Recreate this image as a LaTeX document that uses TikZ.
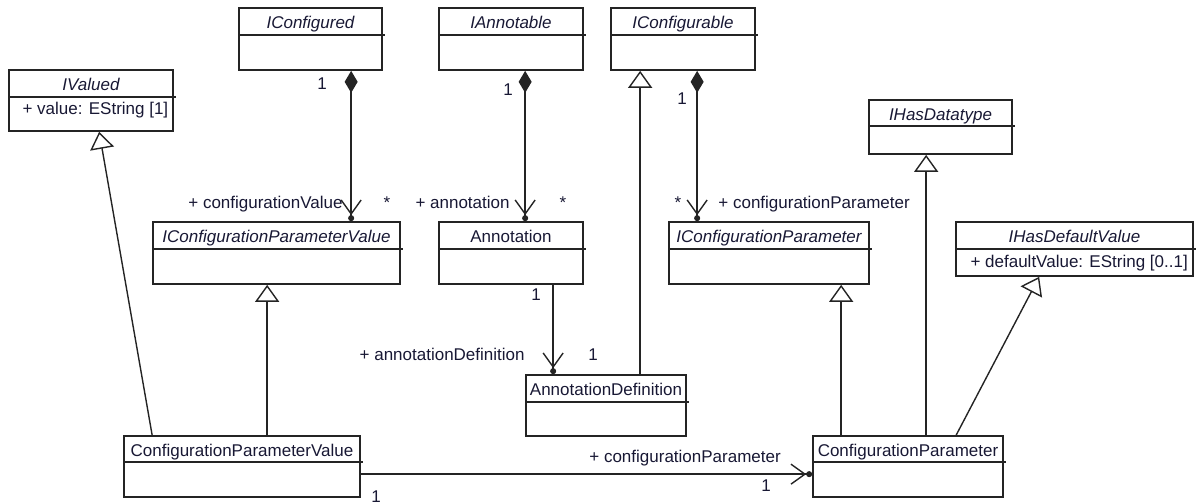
\documentclass[tikz,border=0pt]{standalone}
\usepackage{fontspec}
\setmainfont{Liberation Sans}
\usepackage{tikz}
\usetikzlibrary{arrows.meta, fit, calc}
\usetikzlibrary{positioning}

\definecolor{umltext}{RGB}{24,24,52}
\definecolor{umlline}{RGB}{36,36,36}
\newcommand{\umlfont}{\fontsize{8.5}{10}\selectfont}

\begin{document}
\begin{tikzpicture}[x=0.5pt, y=-0.5pt, font=\umlfont, text=umltext,
    cls/.style={draw=umlline, line width=0.85pt, inner sep=0pt, rectangle},
    title/.style={anchor=base, inner sep=0pt},
    iface/.style={title, font=\umlfont\itshape},
    attr/.style={anchor=base west, inner sep=0pt},
    divider/.style={draw=umlline, line width=0.85pt},
    lbl/.style={inner sep=0pt},
    comp/.style={draw=umlline, line width=0.7pt,
        {Diamond[length=11pt,width=6.5pt]}-{Straight Barb[length=7pt,width=10pt] Circle[length=3pt]}},
    assoc/.style={draw=umlline, line width=0.7pt,
        -{Straight Barb[length=7pt,width=10pt] Circle[length=3pt]}},
    gen/.style={draw=umlline, line width=0.7pt,
        -{Triangle[open,length=8.5pt,width=12pt]}}]
    \useasboundingbox (0,0) rectangle (1198,503);

    % Interfaces
    \node[cls, fit={(9,70) (173,131)}] (ivalued) {};
    \node[iface] (ivalued-t) at ($(ivalued.north)+(0,21)$) {IValued};
    \draw[divider] ($(ivalued.north west)+(0,28)$) -- ($(ivalued.north east)+(2,28)$);
    \node[attr] (ivalued-a) at ($(ivalued.north west)+(14,45)$) {+ value: EString [1]};

    \node[cls, fit={(239,8) (382,70)}] (cfgd) {};
    \node[iface] (cfgd-t) at ($(cfgd.north)+(0,21)$) {IConfigured};
    \draw[divider] ($(cfgd.north west)+(0,28)$) -- ($(cfgd.north east)+(2,28)$);

    \node[cls, fit={(439,8) (583,70)}] (iann) {};
    \node[iface] (iann-t) at ($(iann.north)+(0,21)$) {IAnnotable};
    \draw[divider] ($(iann.north west)+(0,28)$) -- ($(iann.north east)+(2,28)$);

    \node[cls, fit={(611,8) (755,70)}] (icfgable) {};
    \node[iface] (icfgable-t) at ($(icfgable.north)+(0,21)$) {IConfigurable};
    \draw[divider] ($(icfgable.north west)+(0,28)$) -- ($(icfgable.north east)+(2,28)$);

    \node[cls, fit={(869,100) (1012,154)}] (ihasdt) {};
    \node[iface] (ihasdt-t) at ($(ihasdt.north)+(0,21)$) {IHasDatatype};
    \draw[divider] ($(ihasdt.north west)+(0,27)$) -- ($(ihasdt.north east)+(2,27)$);

    \node[cls, fit={(956,222) (1193,276)}] (ihasdv) {};
    \node[iface] (ihasdv-t) at ($(ihasdv.north)+(0,21)$) {IHasDefaultValue};
    \draw[divider] ($(ihasdv.north west)+(0,28)$) -- ($(ihasdv.north east)+(2,28)$);
    \node[attr] (ihasdv-a) at ($(ihasdv.north west)+(15,46)$) {+ defaultValue: EString [0..1]};

    \node[cls, fit={(153,222) (400,284)}] (icpv) {};
    \node[iface] (icpv-t) at ($(icpv.north)+(0,21)$) {IConfigurationParameterValue};
    \draw[divider] ($(icpv.north west)+(0,28)$) -- ($(icpv.north east)+(2,28)$);

    \node[cls, fit={(669,222) (869,284)}] (icp) {};
    \node[iface] (icp-t) at ($(icp.north)+(0,21)$) {IConfigurationParameter};
    \draw[divider] ($(icp.north west)+(0,28)$) -- ($(icp.north east)+(2,28)$);

    % Classes
    \node[cls, fit={(439,222) (583,284)}] (ann) {};
    \node[title] (ann-t) at ($(ann.north)+(0,21)$) {Annotation};
    \draw[divider] ($(ann.north west)+(0,28)$) -- ($(ann.north east)+(2,28)$);

    \node[cls, fit={(526,375) (686,436)}] (anndef) {};
    \node[title] (anndef-t) at ($(anndef.north)+(0,21)$) {AnnotationDefinition};
    \draw[divider] ($(anndef.north west)+(0,28)$) -- ($(anndef.north east)+(2,28)$);

    \node[cls, fit={(124,436) (360,497)}] (cpv) {};
    \node[title] (cpv-t) at ($(cpv.north)+(0,21)$) {ConfigurationParameterValue};
    \draw[divider] ($(cpv.north west)+(0,27)$) -- ($(cpv.north east)+(2,27)$);

    \node[cls, fit={(813,436) (1003,497)}] (cp) {};
    \node[title] (cp-t) at ($(cp.north)+(0,21)$) {ConfigurationParameter};
    \draw[divider] ($(cp.north west)+(0,27)$) -- ($(cp.north east)+(2,27)$);

    % Compositions
    \draw[comp] ($(cfgd.south west)+(113,0)$) coordinate (c1) -- (c1 |- icpv.north);
    \draw[comp] ($(iann.south west)+(87,0)$) coordinate (c2) -- (c2 |- ann.north);
    \draw[comp] ($(icfgable.south west)+(87,0)$) coordinate (c3) -- (c3 |- icp.north);

    % Associations
    \draw[assoc] ($(ann.south west)+(115,0)$) coordinate (c4) -- (c4 |- anndef.north);
    \draw[assoc] ($(cpv.north east)+(0,39)$) coordinate (c5) -- (c5 -| cp.west);

    % Generalizations
    \draw[gen] ($(anndef.north west)+(115,0)$) coordinate (g1) -- (g1 |- icfgable.south);
    \draw[gen] ($(cpv.north west)+(29,0)$) -- ($(ivalued.south west)+(91,0)$);
    \draw[gen] ($(cpv.north west)+(144,0)$) coordinate (g2) -- (g2 |- icpv.south);
    \draw[gen] ($(cp.north west)+(29,0)$) coordinate (g3) -- (g3 |- icp.south);
    \draw[gen] ($(cp.north west)+(114,0)$) coordinate (g4) -- (g4 |- ihasdt.south);
    \draw[gen] ($(cp.north west)+(144,0)$) -- ($(ihasdv.south west)+(84,0)$);

    % Role names and multiplicities
    \node[lbl, anchor=base] (m1) at (322,89) {1};
    \node[lbl, anchor=base east] (r1) at (343,208) {+ configurationValue};
    \node[lbl, anchor=base] (m2) at (387,208) {*};
    \node[lbl, anchor=base] (m3) at (508,95) {1};
    \node[lbl, anchor=base east] (r2) at (510,208) {+ annotation};
    \node[lbl, anchor=base] (m4) at (563,208) {*};
    \node[lbl, anchor=base] (m5) at (682,104) {1};
    \node[lbl, anchor=base] (m6) at (678,208) {*};
    \node[lbl, anchor=base west] (r3) at (718,208) {+ configurationParameter};
    \node[lbl, anchor=base] (m7) at (536,300) {1};
    \node[lbl, anchor=base east] (r4) at (525,360) {+ annotationDefinition};
    \node[lbl, anchor=base] (m8) at (593,360) {1};
    \node[lbl, anchor=base west] (r5) at (589,462) {+ configurationParameter};
    \node[lbl, anchor=base] (m9) at (766,491) {1};
    \node[lbl, anchor=base] (m10) at (376,502) {1};
\end{tikzpicture}
\end{document}
